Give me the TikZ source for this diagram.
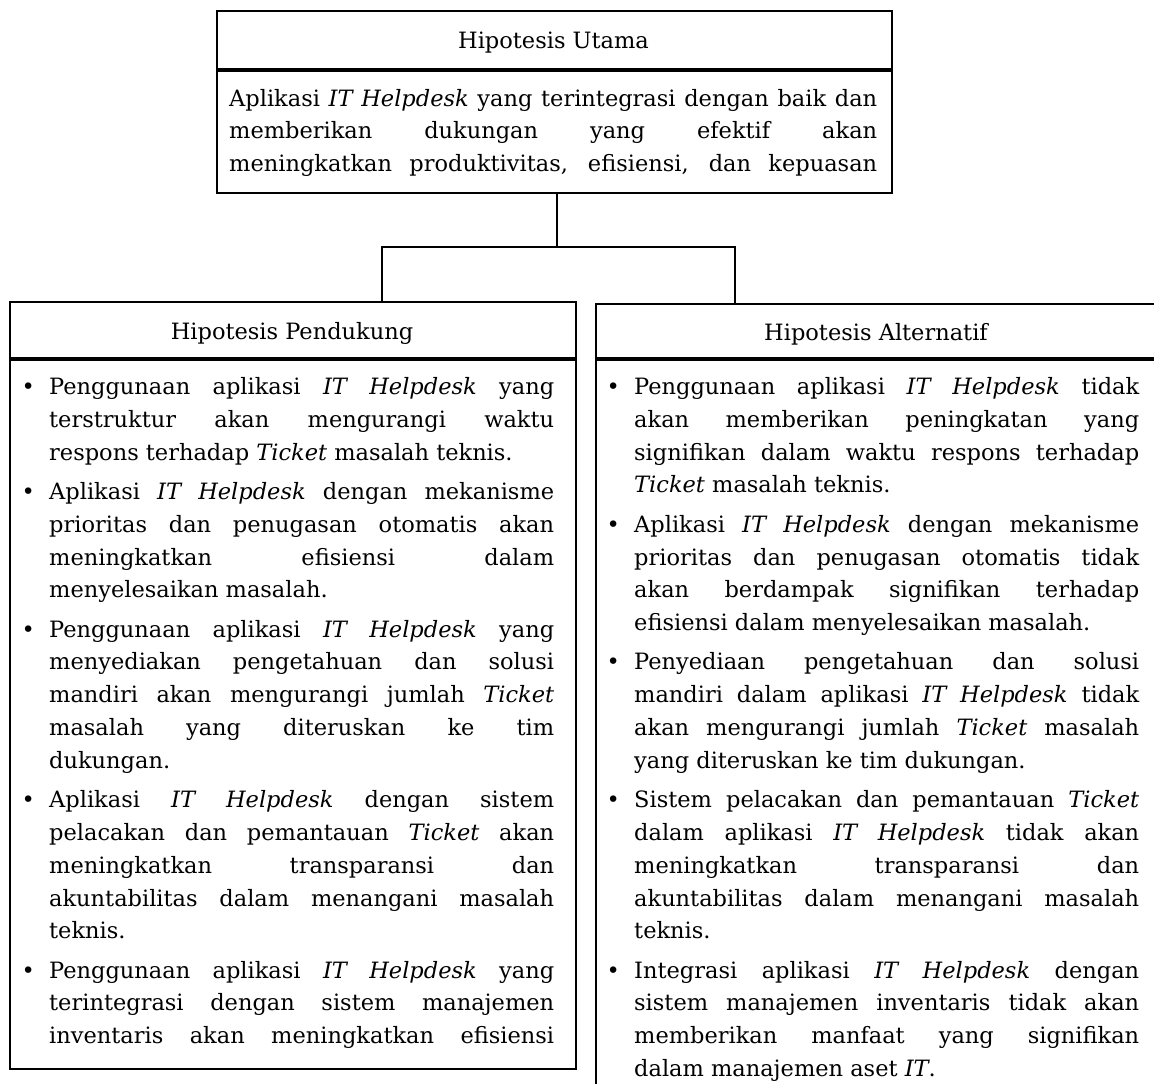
\documentclass[tikz,border=0pt]{standalone}
\usepackage{fontspec}
\setmainfont{DejaVu Serif}

% body text size and line pitch
\newcommand{\bodyfont}{\fontsize{22.5}{32.8}\selectfont}
% one justified line of a bullet item, first line with its bullet
\newcommand{\itemfirst}[1]{\makebox[12pt][c]{\textbullet}\hspace{15pt}\makebox[505pt][s]{#1}}
% a justified continuation line
\newcommand{\itemjust}[1]{\hspace*{27pt}\makebox[505pt][s]{#1}}
% a ragged last line of an item
\newcommand{\itemlast}[1]{\hspace*{27pt}#1}
% a justified line of the main hypothesis
\newcommand{\mainline}[1]{\makebox[648pt][s]{#1}}
\newcommand{\ith}{\textit{IT Helpdesk}}
\newcommand{\tk}{\textit{Ticket}}

\tikzset{
  x=1pt, y=-1pt,
  frame/.style={draw, line width=2.2pt, inner sep=0pt, anchor=north west},
  divider/.style={line width=3.6pt},
  conn/.style={line width=2.2pt},
  head/.style={inner sep=0pt, anchor=base, font=\bodyfont},
  body/.style={inner sep=0pt, anchor=base west, align=left},
}

\begin{document}
\begin{tikzpicture}
\useasboundingbox (0,0) rectangle (1154,1084);
\clip (0,0) rectangle (1154,1084);

% ---------- main hypothesis ----------
\node[frame, minimum width=675pt, minimum height=182pt] (top) at (216,10) {};
\draw[divider] (top.west |- 0,70) -- (top.east |- 0,70);
\node[head] (topH) at (553.5,48) {Hipotesis Utama};
\node[body] (topB) at (229,106) {\parbox[t]{660pt}{\bodyfont
  \mainline{Aplikasi \ith{} yang terintegrasi dengan baik dan}\\
  \mainline{memberikan dukungan yang efektif akan}\\
  \mainline{meningkatkan produktivitas, efisiensi, dan kepuasan}}};

% ---------- supporting hypotheses ----------
\node[frame, minimum width=566pt, minimum height=767pt] (left) at (9,301) {};
\draw[divider] (left.west |- 0,359) -- (left.east |- 0,359);
\node[head] (leftH) at (292,339) {Hipotesis Pendukung};
\node[body] (leftB) at (22,394.5) {\parbox[t]{545pt}{\bodyfont
  \itemfirst{Penggunaan aplikasi \ith{} yang}\\
  \itemjust{terstruktur akan mengurangi waktu}\\
  \itemlast{respons terhadap \tk{} masalah teknis.}\\[6.5pt]
  \itemfirst{Aplikasi \ith{} dengan mekanisme}\\
  \itemjust{prioritas dan penugasan otomatis akan}\\
  \itemjust{meningkatkan efisiensi dalam}\\
  \itemlast{menyelesaikan masalah.}\\[6.5pt]
  \itemfirst{Penggunaan aplikasi \ith{} yang}\\
  \itemjust{menyediakan pengetahuan dan solusi}\\
  \itemjust{mandiri akan mengurangi jumlah \tk}\\
  \itemjust{masalah yang diteruskan ke tim}\\
  \itemlast{dukungan.}\\[6.5pt]
  \itemfirst{Aplikasi \ith{} dengan sistem}\\
  \itemjust{pelacakan dan pemantauan \tk{} akan}\\
  \itemjust{meningkatkan transparansi dan}\\
  \itemjust{akuntabilitas dalam menangani masalah}\\
  \itemlast{teknis.}\\[6.5pt]
  \itemfirst{Penggunaan aplikasi \ith{} yang}\\
  \itemjust{terintegrasi dengan sistem manajemen}\\
  \itemjust{inventaris akan meningkatkan efisiensi}}};

% ---------- alternative hypotheses ----------
\node[frame, minimum width=562pt, minimum height=820pt] (right) at (595,303) {};
\draw[divider] (right.west |- 0,359) -- (right.east |- 0,359);
\node[head] (rightH) at (876,340) {Hipotesis Alternatif};
\node[body] (rightB) at (607,394.5) {\parbox[t]{545pt}{\bodyfont
  \itemfirst{Penggunaan aplikasi \ith{} tidak}\\
  \itemjust{akan memberikan peningkatan yang}\\
  \itemjust{signifikan dalam waktu respons terhadap}\\
  \itemlast{\tk{} masalah teknis.}\\[6.5pt]
  \itemfirst{Aplikasi \ith{} dengan mekanisme}\\
  \itemjust{prioritas dan penugasan otomatis tidak}\\
  \itemjust{akan berdampak signifikan terhadap}\\
  \itemlast{efisiensi dalam menyelesaikan masalah.}\\[6.5pt]
  \itemfirst{Penyediaan pengetahuan dan solusi}\\
  \itemjust{mandiri dalam aplikasi \ith{} tidak}\\
  \itemjust{akan mengurangi jumlah \tk{} masalah}\\
  \itemlast{yang diteruskan ke tim dukungan.}\\[6.5pt]
  \itemfirst{Sistem pelacakan dan pemantauan \tk}\\
  \itemjust{dalam aplikasi \ith{} tidak akan}\\
  \itemjust{meningkatkan transparansi dan}\\
  \itemjust{akuntabilitas dalam menangani masalah}\\
  \itemlast{teknis.}\\[6.5pt]
  \itemfirst{Integrasi aplikasi \ith{} dengan}\\
  \itemjust{sistem manajemen inventaris tidak akan}\\
  \itemjust{memberikan manfaat yang signifikan}\\
  \itemlast{dalam manajemen aset \textit{IT}.}}};

% ---------- connectors ----------
\coordinate (jc) at (557,247);
\coordinate (jl) at (382,247);
\coordinate (jr) at (735,247);
\draw[conn] (top.south -| jc) -- (jc);
\draw[conn] (jl |- left.north) -- (jl) -- (jr) -- (jr |- right.north);
\end{tikzpicture}
\end{document}
